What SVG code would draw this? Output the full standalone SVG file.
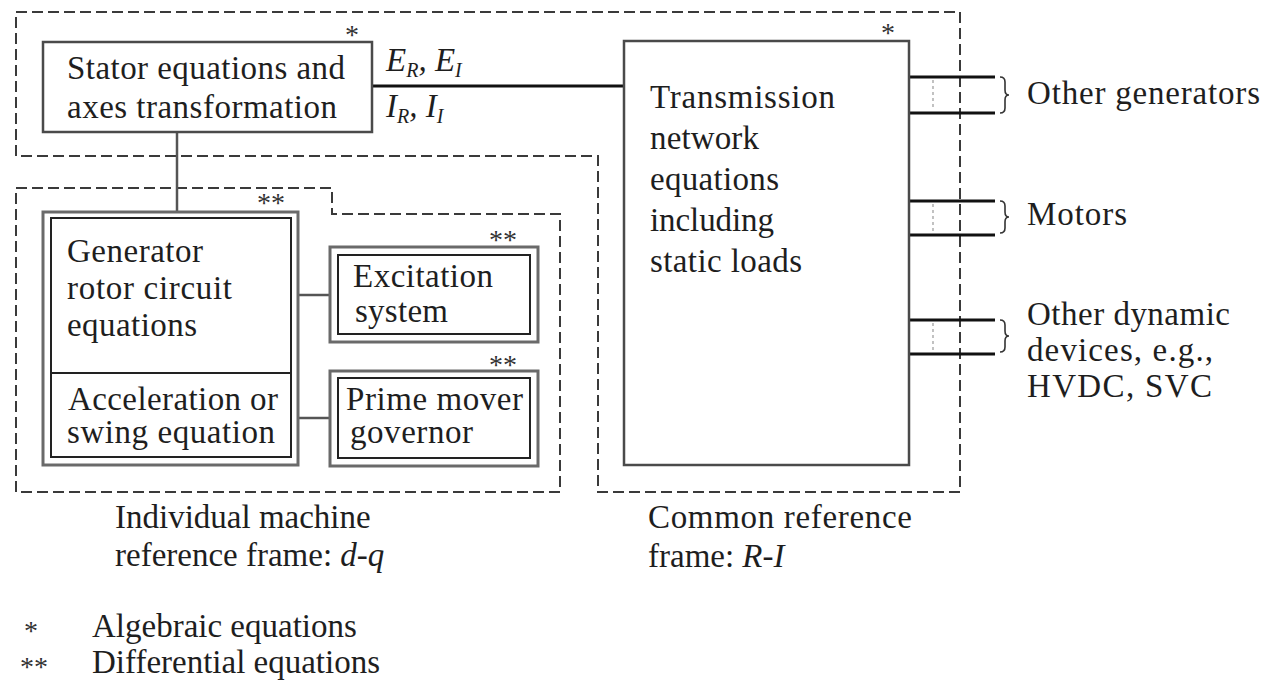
<svg xmlns="http://www.w3.org/2000/svg" width="1265" height="685" viewBox="0 0 1265 685">
<style>
  .t { font-family: "Liberation Serif", "DejaVu Serif", "Times New Roman", serif; font-size: 33px; fill: #1e1e1e; }
  .it { font-style: italic; }
  .sub { font-size: 20px; font-style: italic; }
  .star { font-family: "Liberation Serif", "DejaVu Serif", serif; font-size: 28px; fill: #333; }
  .dash { fill: none; stroke: #3a3a3a; stroke-width: 2; stroke-dasharray: 11 5; }
  .box { fill: #fff; stroke: #4a4a4a; stroke-width: 2.5; }
  .outer { fill: #fff; stroke: #6a6a6a; stroke-width: 3; }
  .inner { fill: none; stroke: #222; stroke-width: 2; }
  .wire { stroke: #111; stroke-width: 3; fill: none; }
  .wire2 { stroke: #555; stroke-width: 2.5; fill: none; }
  .dot { stroke: #999; stroke-width: 1.2; stroke-dasharray: 3 3; fill: none; }
  .brace { fill: none; stroke: #333; stroke-width: 1.6; }
</style>

<g id="frames">
  <path class="dash" d="M16,12 L960,12 L960,492 L598,492 L598,156 L16,156 Z"/>
  <path class="dash" d="M16,188 L332,188 L332,214 L560,214 L560,492 L16,492 Z"/>
</g>

<g id="connectors">
  <line class="wire" x1="372" y1="86" x2="624" y2="86"/>
  <line class="wire2" x1="177" y1="132" x2="177" y2="212"/>
  <line class="wire2" x1="298" y1="295" x2="330" y2="295"/>
  <line class="wire2" x1="298" y1="418" x2="330" y2="418"/>
  <line class="wire" x1="909" y1="77" x2="995" y2="77"/>
  <line class="wire" x1="909" y1="113" x2="995" y2="113"/>
  <line class="wire" x1="909" y1="201" x2="995" y2="201"/>
  <line class="wire" x1="909" y1="235" x2="995" y2="235"/>
  <line class="wire" x1="909" y1="320" x2="995" y2="320"/>
  <line class="wire" x1="909" y1="354" x2="995" y2="354"/>
  <line class="dot" x1="933" y1="80" x2="933" y2="110"/>
  <line class="dot" x1="933" y1="204" x2="933" y2="232"/>
  <line class="dot" x1="933" y1="323" x2="933" y2="351"/>
  <path class="brace" d="M1000,77 q5,0 5,5 v8 q0,5 4,5 q-4,0 -4,5 v8 q0,5 -5,5"/>
  <path class="brace" d="M1000,201 q5,0 5,5 v6 q0,5 4,5 q-4,0 -4,5 v6 q0,5 -5,5"/>
  <path class="brace" d="M1000,320 q5,0 5,5 v6 q0,5 4,5 q-4,0 -4,5 v6 q0,5 -5,5"/>
  <text class="t it" x="386" y="71">E<tspan class="sub" dy="6">R</tspan><tspan dy="-6">, E</tspan><tspan class="sub" dy="6">I</tspan></text>
  <text class="t it" x="386" y="117">I<tspan class="sub" dy="6">R</tspan><tspan dy="-6">, I</tspan><tspan class="sub" dy="6">I</tspan></text>
</g>

<g id="stator">
  <rect class="box" x="43" y="42" width="329" height="90"/>
  <text class="star" x="345" y="44">*</text>
  <text class="t" x="67" y="79" textLength="278">Stator equations and</text>
  <text class="t" x="67" y="118" textLength="270">axes transformation</text>
</g>

<g id="transmission">
  <rect class="box" x="624" y="41" width="285" height="424"/>
  <text class="star" x="881" y="42">*</text>
  <text class="t" x="650" y="108" textLength="185">Transmission</text>
  <text class="t" x="650" y="149" textLength="109">network</text>
  <text class="t" x="650" y="190" textLength="129">equations</text>
  <text class="t" x="650" y="231" textLength="124">including</text>
  <text class="t" x="650" y="272" textLength="152">static loads</text>
</g>

<g id="generator">
  <rect class="outer" x="43" y="212" width="255" height="253"/>
  <rect class="inner" x="51" y="218" width="240" height="239"/>
  <line class="inner" x1="51" y1="373" x2="291" y2="373"/>
  <text class="star" x="257" y="212">**</text>
  <text class="t" x="67" y="262" textLength="136">Generator</text>
  <text class="t" x="67" y="299" textLength="165">rotor circuit</text>
  <text class="t" x="67" y="336" textLength="130">equations</text>
  <text class="t" x="68" y="410" textLength="210">Acceleration or</text>
  <text class="t" x="67" y="443" textLength="208">swing equation</text>
</g>

<g id="excitation">
  <rect class="outer" x="330" y="247" width="208" height="95"/>
  <rect class="inner" x="338" y="255" width="192" height="79"/>
  <text class="star" x="489" y="249">**</text>
  <text class="t" x="353" y="287" textLength="140">Excitation</text>
  <text class="t" x="355" y="322" textLength="93">system</text>
</g>

<g id="primemover">
  <rect class="outer" x="330" y="371" width="208" height="95"/>
  <rect class="inner" x="338" y="378" width="192" height="80"/>
  <text class="star" x="489" y="374">**</text>
  <text class="t" x="346" y="410" textLength="177">Prime mover</text>
  <text class="t" x="350" y="443" textLength="123">governor</text>
</g>

<g id="other-generators">
  <text class="t" x="1027" y="104" textLength="233">Other generators</text>
</g>
<g id="motors">
  <text class="t" x="1027" y="225" textLength="100">Motors</text>
</g>
<g id="other-dynamic">
  <text class="t" x="1027" y="325" textLength="203">Other dynamic</text>
  <text class="t" x="1027" y="361" textLength="186">devices, e.g.,</text>
  <text class="t" x="1027" y="397" textLength="185">HVDC, SVC</text>
</g>

<g id="captions">
  <text class="t" x="115" y="528">Individual machine</text>
  <text class="t" x="115" y="566">reference frame: <tspan class="it">d-q</tspan></text>
  <text class="t" x="648" y="528" textLength="264">Common reference</text>
  <text class="t" x="648" y="567">frame: <tspan class="it">R-I</tspan></text>
</g>

<g id="legend">
  <text class="star" x="24" y="640">*</text>
  <text class="t" x="92" y="637">Algebraic equations</text>
  <text class="star" x="20" y="676">**</text>
  <text class="t" x="92" y="673">Differential equations</text>
</g>
</svg>
